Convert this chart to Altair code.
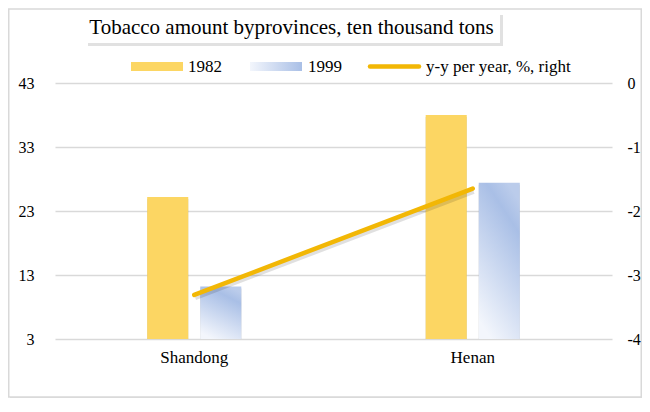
import altair as alt
import pandas as pd

# ---------------- data ----------------
provinces = ["Shandong", "Henan"]
years = ["1982", "1999"]
values_1982 = [25.2, 38.0]
values_1999 = [11.2, 27.4]
yy_change = [-3.31, -1.65]
left_ticks = [3, 13, 23, 33, 43]
right_ticks = [-4, -3, -2, -1, 0]
title_text = "Tobacco amount byprovinces, ten thousand tons"
legend_labels = ["1982", "1999", "y-y per year, %, right"]

bars_df = pd.DataFrame({
    "province": provinces * 2,
    "year": [years[0]] * len(provinces) + [years[1]] * len(provinces),
    "value": values_1982 + values_1999,
})
line_df = pd.DataFrame({"province": provinces, "yy": yy_change})
deco = pd.DataFrame({"k": [0]})

# ---------------- styles ----------------
FONT = "Liberation Serif, Times New Roman, serif"
W, H = 557, 256
YELLOW = "#FCD663"
GOLD = "#F2B705"
GRID = "#D9D9D9"

grad_bar = alt.LinearGradient(
    gradient="linear",
    stops=[
        alt.GradientStop(color="#BBCCEB", offset=0),
        alt.GradientStop(color="#A9BFE6", offset=0.18),
        alt.GradientStop(color="#F3F6FC", offset=1),
    ],
    x1=0.7, y1=0, x2=0.3, y2=1,
)
grad_legend = alt.LinearGradient(
    gradient="linear",
    stops=[
        alt.GradientStop(color="#F3F6FC", offset=0),
        alt.GradientStop(color="#A9BFE6", offset=1),
    ],
    x1=0, y1=0, x2=1, y2=0,
)

x_scale = alt.Scale(domain=provinces, paddingInner=0.662, paddingOuter=0.331)
x_axis = alt.Axis(title=None, labelAngle=0, domain=False, ticks=False, grid=False,
                  labelFont=FONT, labelFontSize=17, labelColor="#000", labelPadding=10)
x_enc = alt.X("province:N", scale=x_scale, axis=x_axis)
xoff = alt.XOffset("year:N", scale=alt.Scale(domain=years, paddingInner=0.226, paddingOuter=0))

y_left_axis = alt.Axis(values=left_ticks, title=None, domain=False, ticks=False, grid=True,
                       gridColor=GRID, gridWidth=1.3, labelFont=FONT, labelFontSize=16,
                       labelColor="#000", labelPadding=21)
y_left = alt.Y("value:Q", scale=alt.Scale(domain=[3, 43], nice=False, zero=False), axis=y_left_axis)

y_right = alt.Y("yy:Q", scale=alt.Scale(domain=[-4, 0], nice=False, zero=False),
                axis=alt.Axis(orient="right", values=right_ticks, title=None, domain=False,
                              ticks=False, grid=False, labelFont=FONT, labelFontSize=16,
                              labelColor="#000", labelPadding=15, zindex=1,
                              labelExpr="datum.value + ''"))

base_bars = alt.Chart(bars_df).encode(x=x_enc, xOffset=xoff, y=y_left, y2=alt.datum(3))

bar_shadow = base_bars.mark_bar(color="#000000", opacity=0.2, xOffset=3, yOffset=2)
bar82 = base_bars.transform_filter(alt.datum.year == years[0]).mark_bar(color=YELLOW)
bar99 = base_bars.transform_filter(alt.datum.year == years[1]).mark_bar(color=grad_bar)
bars = alt.layer(bar_shadow, bar82, bar99)

base_line = alt.Chart(line_df).encode(x=x_enc, y=y_right)
line_shadow = base_line.mark_line(color="#000000", opacity=0.12, strokeWidth=4.5, yOffset=3, xOffset=1)
line = base_line.mark_line(color=GOLD, strokeWidth=4.5, strokeCap="round")
lines = alt.layer(line_shadow, line)

# ---------------- decorations (frame, title box, legend) ----------------
d = alt.Chart(deco)
frame_shadow = d.mark_rule(color="#BFBFBF", strokeWidth=2.5, opacity=0.7).encode(
    x=alt.value(-45), x2=alt.value(587), y=alt.value(315.5))
frame = d.mark_rect(filled=False, stroke=GRID, strokeWidth=1.5).encode(
    x=alt.value(-46.25), x2=alt.value(586.25), y=alt.value(-74), y2=alt.value(314))
tbox_shadow = d.mark_rect(color="#9A9A9A", opacity=0.3).encode(
    x=alt.value(33), x2=alt.value(448), y=alt.value(-68), y2=alt.value(-37))
tbox = d.mark_rect(color="white").encode(
    x=alt.value(30), x2=alt.value(445), y=alt.value(-71), y2=alt.value(-40))
title = d.mark_text(font=FONT, fontSize=21, color="#000", align="center", baseline="alphabetic").encode(
    x=alt.value(236.5), y=alt.value(-48.7), text=alt.value(title_text))

leg1 = d.mark_rect(color=YELLOW).encode(x=alt.value(76), x2=alt.value(128), y=alt.value(-21), y2=alt.value(-12))
leg2 = d.mark_rect(color=grad_legend).encode(x=alt.value(195), x2=alt.value(247), y=alt.value(-21), y2=alt.value(-12))
leg3 = d.mark_rule(color=GOLD, strokeWidth=4.5, strokeCap="round").encode(
    x=alt.value(315), x2=alt.value(364), y=alt.value(-16.5))
ltxt = dict(font=FONT, fontSize=17, color="#000", align="left", baseline="alphabetic")
lt1 = d.mark_text(**ltxt).encode(x=alt.value(133), y=alt.value(-11.5), text=alt.value(legend_labels[0]))
lt2 = d.mark_text(**ltxt).encode(x=alt.value(253), y=alt.value(-11.5), text=alt.value(legend_labels[1]))
lt3 = d.mark_text(**ltxt).encode(x=alt.value(371), y=alt.value(-11.5), text=alt.value(legend_labels[2]))

chart = alt.layer(
    frame_shadow, frame, tbox_shadow, tbox, title,
    bars, lines,
    leg1, leg2, leg3, lt1, lt2, lt3,
).resolve_scale(y="independent").properties(
    width=W, height=H,
    autosize=alt.AutoSizeParams(type="none"),
    padding={"left": 47, "top": 75, "right": 30, "bottom": 59},
    background="white",
).configure_view(stroke=None)

chart.save("out.html", embed_options={"renderer": "svg", "actions": False})
